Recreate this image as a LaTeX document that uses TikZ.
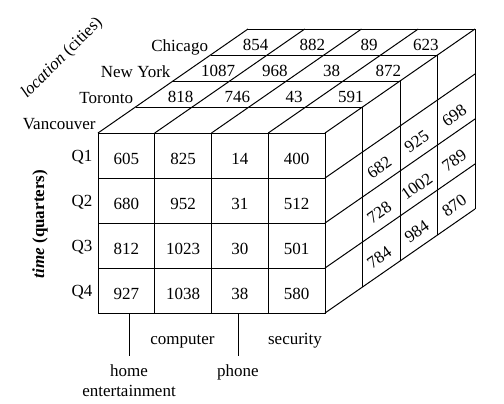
\documentclass[tikz,border=0pt]{standalone}
\usepackage{fontspec}
\setmainfont{Liberation Serif}
\begin{document}
\begin{tikzpicture}[x=0.5pt,y=-0.5pt,line width=0.5pt,
  every node/.style={font=\fontsize{8.5}{10}\selectfont},
  cell/.style={inner sep=0pt},
  side/.style={inner sep=0pt,rotate=35},
  dimlabel/.style={inner sep=0pt},
  itemlabel/.style={align=center,inner sep=4pt}]
  \useasboundingbox (0,0) rectangle (504,403);
  % front face
  \draw (98,133) rectangle (325,313);
  \foreach \i in {1,2,3} {
    \draw (98+56.75*\i,133) -- ++(0,180);
    \draw (98,133+45*\i) -- ++(227,0);
  }
  % top face
  \foreach \i in {0,...,4} \draw (98+56.75*\i,133) -- ++(150,-104);
  \foreach \k in {1,...,4} \draw (98+37.5*\k,133-26*\k) -- ++(227,0);
  % right face
  \foreach \k in {1,...,4} \draw (325+37.5*\k,133-26*\k) -- ++(0,180);
  \foreach \j in {1,...,4} \draw (325,133+45*\j) -- ++(150,-104);
  %
  \foreach \vals [count=\r from 0] in {{605,825,14,400},{680,952,31,512},{812,1023,30,501},{927,1038,38,580}}
    \foreach \v [count=\c from 0] in \vals
      \node[cell] (f\r\c) at (126.4+56.75*\c,158.5+45*\r) {\v};
  \foreach \vals [count=\d from 1] in {{818,746,43,591},{1087,968,38,872},{854,882,89,623}}
    \foreach \v [count=\c from 0] in \vals
      \node[cell] (t\d\c) at (124.4+56.75*\c+37.5*\d+18.75,123-26*\d) {\v};
  \foreach \vals [count=\k from 1] in {{682,728,784},{925,1002,984},{698,789,870}}
    \foreach \v [count=\r from 1] in \vals
      \node[side] (s\k\r) at (341.75+37.5*\k,148.5-26*\k+45*\r) {\v};
  %
  \foreach \name [count=\d from 0] in {Vancouver,Toronto,New York,Chicago}
    \node[dimlabel,anchor=base east] (city\d) at (96+37.5*\d,129-26*\d) {\name};
  \foreach \q [count=\r from 0] in {Q1,Q2,Q3,Q4}
    \node[dimlabel,anchor=base] (q\r) at (82,161+45*\r) {\q};
  \node[rotate=45] (location) at (62,58) {\textit{location} (cities)};
  \node[rotate=90] (time) at (40,224) {\textbf{\textit{time} (quarters)}};
  %
  \node[dimlabel,anchor=base] (computer) at (182.5,344) {computer};
  \node[dimlabel,anchor=base] (security) at (295,344) {security};
  \node[itemlabel,anchor=north] (home) at (129,356) {home\\entertainment};
  \node[itemlabel,anchor=north] (phone) at (238,356) {phone};
  \coordinate (homeTick) at (129,313);
  \coordinate (phoneTick) at (238,313);
  \draw (homeTick) -- (home.north);
  \draw (phoneTick) -- (phone.north);
\end{tikzpicture}
\end{document}
